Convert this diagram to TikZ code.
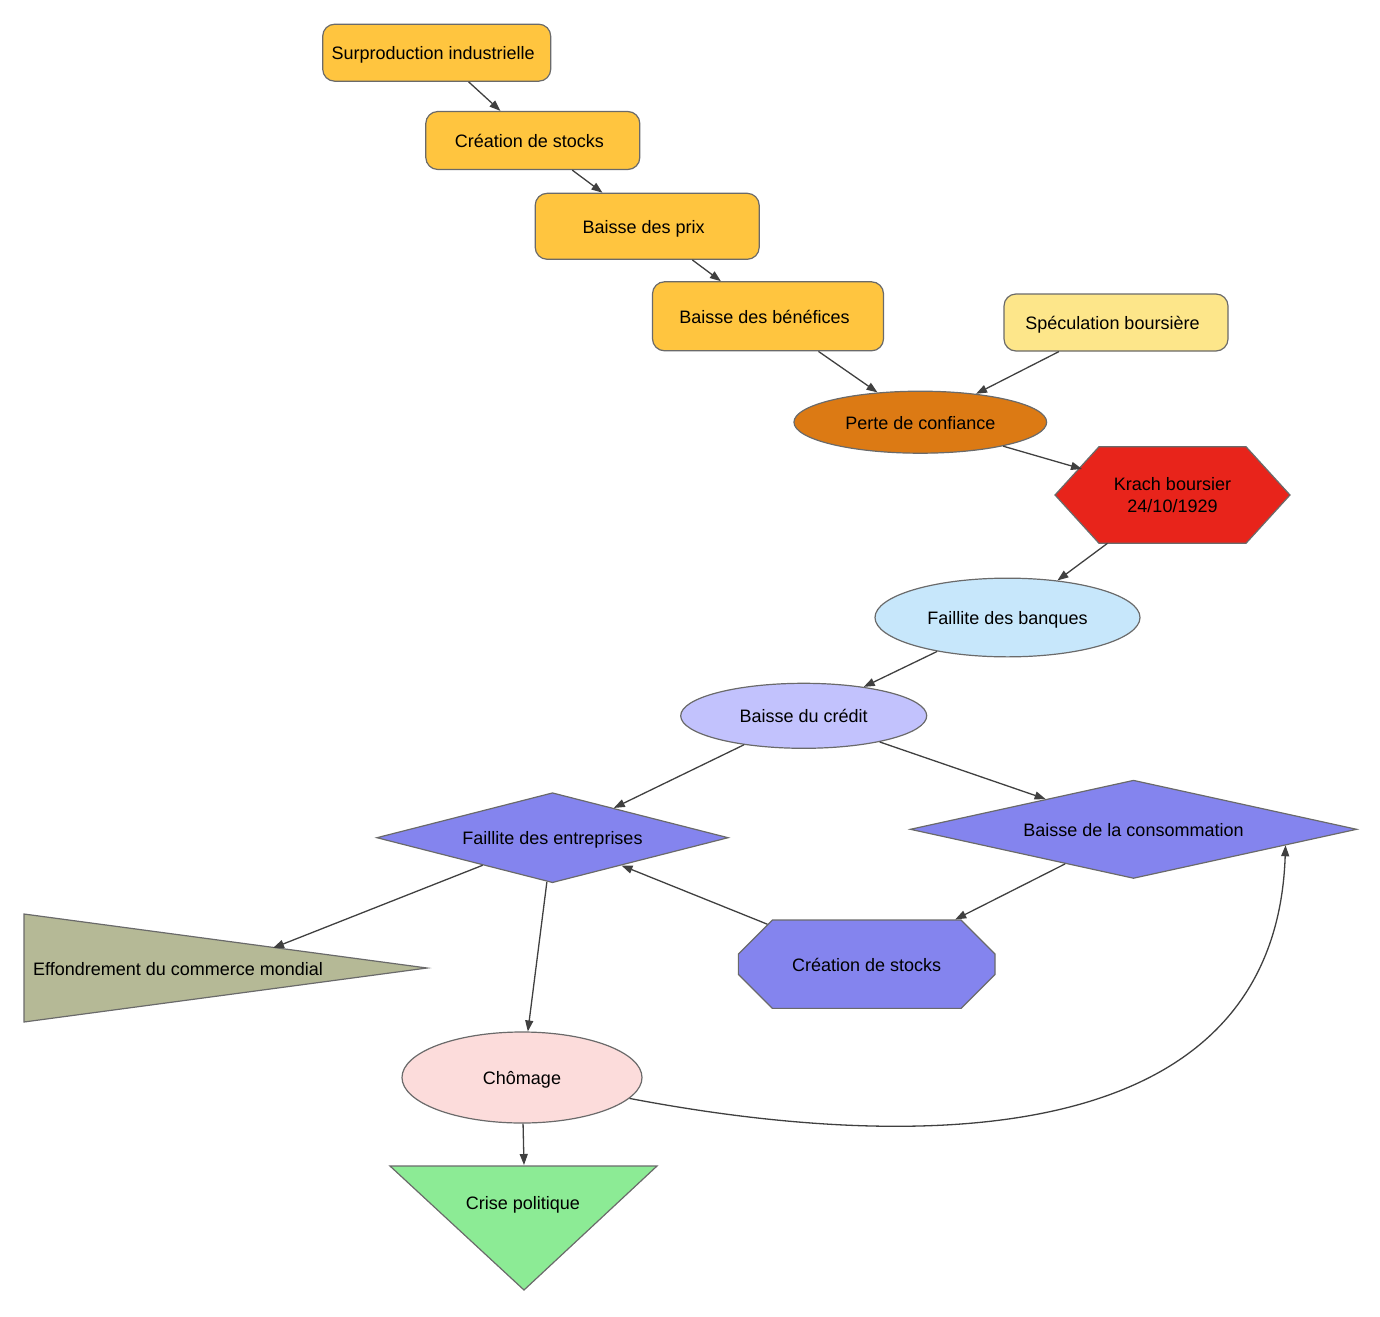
\documentclass[tikz,border=0pt]{standalone}
\usepackage{fontspec}
\setmainfont{Liberation Sans}
\usetikzlibrary{shapes.geometric,shapes.misc,arrows.meta}
\definecolor{bordc}{HTML}{6A6A6A}
\definecolor{edgec}{HTML}{404040}
\definecolor{orangec}{HTML}{FFC53F}
\definecolor{specc}{HTML}{FDE68A}
\definecolor{pertec}{HTML}{DC7A14}
\definecolor{krachc}{HTML}{E8241B}
\definecolor{banqc}{HTML}{C7E7FB}
\definecolor{credc}{HTML}{C2C2FD}
\definecolor{purpc}{HTML}{8484EE}
\definecolor{effc}{HTML}{B5B996}
\definecolor{choc}{HTML}{FCDCDB}
\definecolor{crisec}{HTML}{8CEB95}
\begin{document}
\begin{tikzpicture}[x=1pt,y=-1pt,
  font=\fontsize{18}{22}\selectfont,
  shapeline/.style={draw=bordc, line width=1.2pt},
  tline/.style={text height=14pt, text depth=0pt},
  rbox/.style={shapeline, tline, rectangle, rounded corners=12pt, inner sep=0pt, fill=orangec,
               execute at end node={\hspace*{7pt}}},
  ell/.style={shapeline, tline, ellipse, inner sep=0pt},
  dia/.style={shapeline, tline, diamond, inner sep=0pt, fill=purpc},
  chamf/.style={shapeline, tline, chamfered rectangle, inner sep=0pt},
  txt/.style={tline, inner sep=0pt},
  arr/.style={draw=edgec, line width=1.3pt, -{Triangle[length=11pt,width=8pt]}}
]
\useasboundingbox (0,0) rectangle (1380,1316);

% polygon outlines (triangles, hexagon)
\filldraw[shapeline, fill=effc] (24,914) -- (427,968) -- (24,1022) -- cycle;
\filldraw[shapeline, fill=crisec] (390,1166) -- (657,1166) -- (524,1290) -- cycle;
\filldraw[shapeline, fill=krachc] (1055,495) -- (1099,446.7) -- (1246,446.7) -- (1290,495)
  -- (1246,543.3) -- (1099,543.3) -- cycle;

% nodes
\node[rbox, minimum width=228pt, minimum height=57pt] (s1) at (436.7,52.7) {Surproduction industrielle};
\node[rbox, minimum width=214pt, minimum height=58pt] (s2) at (532.8,140.5) {Création de stocks};
\node[rbox, minimum width=224pt, minimum height=66pt] (s3) at (647.2,226.3) {Baisse des prix};
\node[rbox, minimum width=231pt, minimum height=69pt] (s4) at (768,316.3) {Baisse des bénéfices};
\node[rbox, fill=specc, minimum width=224pt, minimum height=57pt] (spec) at (1116,322.5) {Spéculation boursière};
\node[ell, fill=pertec, minimum width=252.7pt, minimum height=62pt] (perte) at (920.3,422.2) {Perte de confiance};
\node[inner sep=0pt, align=center] (krach) at (1172.5,495.5) {Krach boursier\\24/10/1929};
\node[ell, fill=banqc, minimum width=265pt, minimum height=78.7pt] (banq) at (1007.5,617.5) {Faillite des banques};
\node[ell, fill=credc, minimum width=246pt, minimum height=65pt] (cred) at (803.7,715.8) {Baisse du crédit};
\node[dia, aspect=3.907, minimum width=351.6pt, minimum height=90pt] (ent) at (552.5,837.7) {Faillite des entreprises};
\node[dia, aspect=4.544, minimum width=446.7pt, minimum height=98.3pt] (con) at (1133.5,829.3) {Baisse de la consommation};
\node[chamf, fill=purpc, minimum width=256.7pt, minimum height=88.3pt,
      chamfered rectangle xsep=77pt, chamfered rectangle ysep=27pt] (oct) at (866.7,964.2) {Création de stocks};
\node[ell, fill=choc, minimum width=240pt, minimum height=91pt] (cho) at (522,1077.5) {Chômage};
\node[txt] (eff) at (178,968) {Effondrement du commerce mondial};
\node[txt] (crise) at (523,1202) {Crise politique};

\coordinate (krin) at (1082,469);
\coordinate (krout) at (1107.5,543.3);
\coordinate (effin) at (273,948);
\coordinate (crisein) at (524,1165);

% connectors
\draw[arr] (s1) -- (s2);
\draw[arr] (s2) -- (s3);
\draw[arr] (s3) -- (s4);
\draw[arr] (s4) -- (perte);
\draw[arr] (spec) -- (perte);
\draw[arr] (perte) -- (krin);
\draw[arr] (krout) -- (banq);
\draw[arr] (banq) -- (cred);
\draw[arr] (cred) -- (ent);
\draw[arr] (cred) -- (con);
\draw[arr] (ent) -- (effin);
\draw[arr] (ent) -- (cho);
\draw[arr] (con) -- (oct);
\draw[arr] (oct) -- (ent);
\draw[arr] (cho) -- (crisein);
\draw[arr] (cho.-11) .. controls (900,1150) and (1275,1160) .. (con.-6);
\end{tikzpicture}
\end{document}
